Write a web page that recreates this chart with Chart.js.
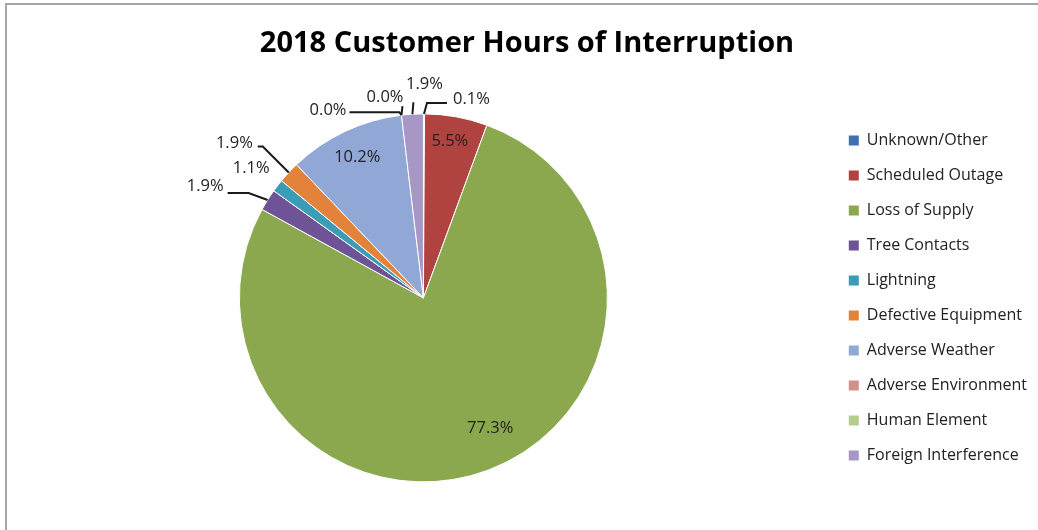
<!DOCTYPE html>
<html lang="en">
<head>
    <meta charset="UTF-8">
    <title>2018 Customer Hours of Interruption</title>
    <script src="https://cdn.jsdelivr.net/npm/chart.js"></script>
    <style>
        body { margin: 0; background: #fff; overflow: hidden; }
        .frame { position: absolute; left: 5px; top: 3px; width: 1050px; height: 550px; border-top: 2px solid #a6a6a6; border-left: 2px solid #a6a6a6; }
        #myChart { position: absolute; left: 0; top: 0; }
    </style>
</head>
<body>
    <div class="frame"></div>
    <canvas id="myChart" width="1038" height="530"></canvas>
    <script>
        const categories = ['Unknown/Other', 'Scheduled Outage', 'Loss of Supply', 'Tree Contacts', 'Lightning',
            'Defective Equipment', 'Adverse Weather', 'Adverse Environment', 'Human Element', 'Foreign Interference'];
        const percentValues = [0.1, 5.5, 77.3, 1.9, 1.1, 1.9, 10.2, 0.0, 0.0, 1.9];
        const sliceColors = ['#3f70b0', '#b0423f', '#8ba84e', '#6e5396', '#3b9db5',
            '#e3823a', '#91a7d5', '#d48e8c', '#b4cd8e', '#a697c4'];

        // where each percentage label goes: inside the slice (f = fraction of radius)
        // or outside, offset from the slice's outer edge, with an optional leader line
        const labelPlacement = [
            { out: true, leader: [[3, -11], [23, -11]], text: [29, -15], align: 'left' },
            { f: 0.867, dx: -2 },
            { f: 0.756, dx: 18 },
            { out: true, leader: [[-19, -7], [-40, -7]], text: [-44, -14], align: 'right' },
            { out: true, leader: null, text: [-8, -17], align: 'right' },
            { out: true, leader: [[-26, -26], [-31, -26]], text: [-36, -29], align: 'right' },
            { f: 0.843, dx: 0 },
            { out: true, leader: [[-2, -3], [-52, -3]], text: [-55, -5], align: 'right' },
            { out: true, leader: [[1, -9]], text: [2, -18], align: 'right' },
            { out: true, leader: [[1, -12]], text: [12, -30], align: 'center' }
        ];

        const dataLabels = {
            id: 'dataLabels',
            afterDatasetsDraw(chart) {
                const ctx = chart.ctx;
                const arcs = chart.getDatasetMeta(0).data;
                ctx.save();
                ctx.font = '16.5px "Open Sans"';
                ctx.fillStyle = '#222';
                ctx.strokeStyle = '#1a1a1a';
                ctx.lineWidth = 2;
                ctx.textBaseline = 'middle';
                arcs.forEach((arc, i) => {
                    const p = labelPlacement[i];
                    const txt = percentValues[i].toFixed(1) + '%';
                    const mid = (arc.startAngle + arc.endAngle) / 2;
                    if (!p.out) {
                        const r = arc.outerRadius * p.f;
                        ctx.textAlign = 'center';
                        ctx.fillText(txt, arc.x + r * Math.cos(mid) + (p.dx || 0), arc.y + r * Math.sin(mid));
                        return;
                    }
                    const ex = arc.x + arc.outerRadius * Math.cos(mid);
                    const ey = arc.y + arc.outerRadius * Math.sin(mid);
                    if (p.leader) {
                        ctx.beginPath();
                        ctx.moveTo(ex, ey);
                        p.leader.forEach(([dx, dy]) => ctx.lineTo(ex + dx, ey + dy));
                        ctx.stroke();
                    }
                    ctx.textAlign = p.align;
                    ctx.fillText(txt, ex + p.text[0], ey + p.text[1]);
                });
                ctx.restore();
            }
        };

        const ctx = document.getElementById('myChart').getContext('2d');
        const chart = new Chart(ctx, {
            type: 'pie',
            data: {
                labels: categories,
                datasets: [{
                    data: percentValues,
                    backgroundColor: sliceColors,
                    borderColor: '#ffffff',
                    borderWidth: 1,
                    hoverOffset: 0
                }]
            },
            options: {
                responsive: false,
                animation: false,
                radius: 184,
                layout: { padding: { left: 17, right: 1, top: 0, bottom: 40 } },
                plugins: {
                    tooltip: { enabled: false },
                    title: {
                        display: true,
                        text: '2018 Customer Hours of Interruption',
                        color: '#000',
                        font: { family: '"Open Sans"', size: 29, weight: 'bold' },
                        padding: { top: 26, bottom: 45 }
                    },
                    legend: {
                        position: 'right',
                        align: 'center',
                        fullSize: false,
                        labels: {
                            boxWidth: 10,
                            boxHeight: 10,
                            padding: 19,
                            color: '#222',
                            font: { family: '"Open Sans"', size: 16 },
                            generateLabels: (c) => Chart.overrides.pie.plugins.legend.labels.generateLabels(c)
                                .map(l => ({ ...l, lineWidth: 0 }))
                        }
                    }
                }
            },
            plugins: [dataLabels]
        });
    </script>
</body>
</html>
